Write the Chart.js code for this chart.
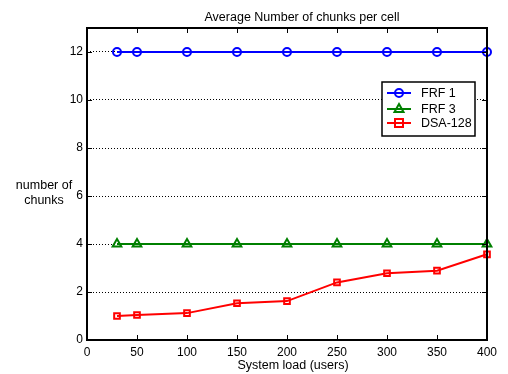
<!DOCTYPE html>
<html>
<head>
<meta charset="utf-8">
<script src="https://cdn.jsdelivr.net/npm/chart.js@4.4.1/dist/chart.umd.min.js"></script>
<style>
    html, body { margin: 0; padding: 0; background: #fff; }
</style>
</head>
<body>
<canvas id="graficoChunks" width="508" height="374"></canvas>
<script>
// dados
const cargaUsuarios = [30, 50, 100, 150, 200, 250, 300, 350, 400];
const frf1 = [12, 12, 12, 12, 12, 12, 12, 12, 12];
const frf3 = [4, 4, 4, 4, 4, 4, 4, 4, 4];
const dsa128 = [1.0, 1.04, 1.12, 1.53, 1.62, 2.4, 2.78, 2.89, 3.57];
const xTicks = [0, 50, 100, 150, 200, 250, 300, 350, 400];
const yTicks = [0, 2, 4, 6, 8, 10, 12];

const fonte = '"Liberation Sans", Arial, sans-serif';

function pares(valores) {
    return cargaUsuarios.map((x, i) => ({ x: x, y: valores[i] }));
}

function desenharMarcador(ctx, estilo, x, y, cor) {
    ctx.strokeStyle = cor;
    ctx.lineWidth = 2;
    ctx.beginPath();
    if (estilo === 'circle') {
        ctx.arc(x, y, 4, 0, Math.PI * 2);
    } else if (estilo === 'triangle') {
        ctx.moveTo(x, y - 5);
        ctx.lineTo(x + 4.5, y + 3);
        ctx.lineTo(x - 4.5, y + 3);
        ctx.closePath();
    } else {
        ctx.rect(x - 4, y - 4, 8, 8);
    }
    ctx.stroke();
}

// moldura, ticks internos, textos e legenda
const decoracao = {
    id: 'decoracao',
    afterDraw(chart) {
        const ctx = chart.ctx;
        const a = chart.chartArea;
        const x = chart.scales.x;
        const y = chart.scales.y;
        ctx.save();

        ctx.strokeStyle = '#000';
        ctx.lineWidth = 1;
        ctx.beginPath();
        xTicks.forEach(v => {
            const px = Math.round(x.getPixelForValue(v)) + 0.5;
            ctx.moveTo(px, a.bottom); ctx.lineTo(px, a.bottom - 5);
            ctx.moveTo(px, a.top); ctx.lineTo(px, a.top + 5);
        });
        yTicks.forEach(v => {
            const py = Math.round(y.getPixelForValue(v)) + 0.5;
            ctx.moveTo(a.left, py); ctx.lineTo(a.left + 5, py);
            ctx.moveTo(a.right, py); ctx.lineTo(a.right - 5, py);
        });
        ctx.stroke();

        ctx.lineWidth = 2;
        ctx.strokeRect(a.left, a.top, a.right - a.left, a.bottom - a.top);

        ctx.fillStyle = '#000';
        ctx.textAlign = 'center';
        ctx.textBaseline = 'middle';
        ctx.font = '12.5px ' + fonte;
        ctx.fillText('Average Number of chunks per cell', 302, 18);
        ctx.fillText('System load (users)', 293, 366);
        ctx.fillText('number of', 44, 186);
        ctx.fillText('chunks', 44, 201);

        // legenda
        ctx.fillStyle = '#fff';
        ctx.fillRect(382, 82, 93, 54);
        ctx.strokeStyle = '#000';
        ctx.lineWidth = 1.5;
        ctx.strokeRect(382, 82, 93, 54);
        const linhas = [93, 109, 123];
        chart.data.datasets.forEach((ds, i) => {
            const ly = linhas[i];
            ctx.strokeStyle = ds.borderColor;
            ctx.lineWidth = 2;
            ctx.beginPath();
            ctx.moveTo(387, ly); ctx.lineTo(411, ly);
            ctx.stroke();
            desenharMarcador(ctx, ds.pointStyle, 399, ly, ds.borderColor);
            ctx.fillStyle = '#000';
            ctx.textAlign = 'left';
            ctx.font = '12.5px ' + fonte;
            ctx.fillText(ds.label, 421, ly + 1);
        });
        ctx.restore();
    }
};

function serie(label, valores, cor, estilo) {
    return {
        label: label,
        data: pares(valores),
        borderColor: cor,
        backgroundColor: cor,
        borderWidth: 2,
        pointStyle: estilo,
        pointRadius: estilo === 'triangle' ? 5 : 4,
        pointBorderWidth: 2,
        pointBackgroundColor: 'rgba(0,0,0,0)',
        pointBorderColor: cor,
        tension: 0,
        clip: false
    };
}

const ctx = document.getElementById('graficoChunks').getContext('2d');
const graficoChunks = new Chart(ctx, {
    type: 'line',
    data: {
        datasets: [
            serie('FRF 1', frf1, '#0000ff', 'circle'),
            serie('FRF 3', frf3, '#008000', 'triangle'),
            serie('DSA-128', dsa128, '#ff0000', 'rect')
        ]
    },
    options: {
        responsive: false,
        animation: false,
        devicePixelRatio: 1,
        layout: { padding: { left: 0, top: 28, right: 21, bottom: 0 } },
        plugins: {
            legend: { display: false },
            title: { display: false },
            tooltip: { enabled: false }
        },
        scales: {
            x: {
                type: 'linear',
                min: 0,
                max: 400,
                afterBuildTicks: scale => { scale.ticks = xTicks.map(v => ({ value: v })); },
                afterFit: scale => { scale.height = 34; },
                grid: { display: false, drawTicks: false },
                border: { display: false },
                ticks: { color: '#000', padding: 5, maxRotation: 0, font: { family: fonte, size: 12 } }
            },
            y: {
                min: 0,
                max: 13,
                afterBuildTicks: scale => { scale.ticks = yTicks.map(v => ({ value: v })); },
                afterFit: scale => { scale.width = 87; },
                grid: {
                    color: ctx => ctx.tick && ctx.tick.value > 0 ? '#000' : 'rgba(0,0,0,0)',
                    lineWidth: 1,
                    drawTicks: false
                },
                border: { display: false, dash: [1, 2] },
                ticks: { color: '#000', padding: 4, font: { family: fonte, size: 12 } }
            }
        }
    },
    plugins: [decoracao]
});
</script>
</body>
</html>
